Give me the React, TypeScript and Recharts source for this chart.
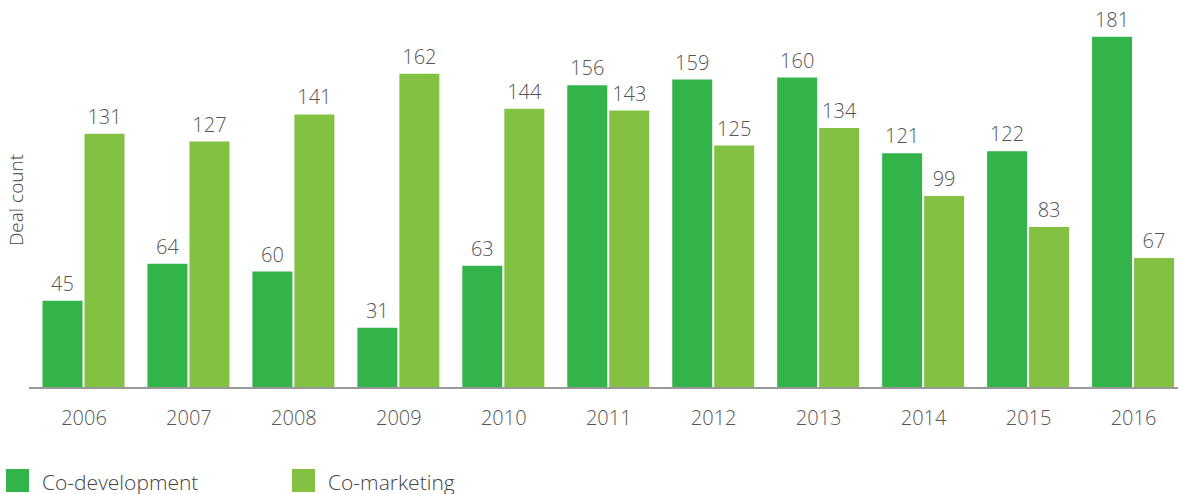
import React from 'react'
import { BarChart, Bar, XAxis, YAxis, Legend, LabelList } from 'recharts'

const years = ['2006', '2007', '2008', '2009', '2010', '2011', '2012', '2013', '2014', '2015', '2016']
const coDevelopment = [45, 64, 60, 31, 63, 156, 159, 160, 121, 122, 181]
const coMarketing = [131, 127, 141, 162, 144, 143, 125, 134, 99, 83, 67]

const DEV_COLOR = '#32B44B'
const MKT_COLOR = '#82C142'
const FONT = '"Open Sans", sans-serif'

const legendItems = [
  { color: DEV_COLOR, value: 'Co-development', x: 6 },
  { color: MKT_COLOR, value: 'Co-marketing', x: 292 },
]

const data = years.map((year, i) => ({
  year,
  dev: coDevelopment[i],
  mkt: coMarketing[i],
}))

function ChartLegend() {
  return (
    <div style={{ position: 'relative', width: 600, height: 25 }}>
      {legendItems.map((item) => (
        <div
          key={item.value}
          style={{ position: 'absolute', left: item.x, top: 0, display: 'flex', alignItems: 'center' }}
        >
          <span style={{ width: 23, height: 23, background: item.color, display: 'inline-block' }} />
          <span
            style={{
              marginLeft: 13,
              fontFamily: FONT,
              fontWeight: 300,
              fontSize: 21,
              color: '#444',
              lineHeight: '23px',
              position: 'relative',
              top: 2,
            }}
          >
            {item.value}
          </span>
        </div>
      ))}
    </div>
  )
}

const YLabel = () => (
  <text
    transform="translate(23, 200) rotate(-90)"
    textAnchor="middle"
    fontFamily={FONT}
    fontWeight={300}
    fontSize={19}
    fill="#444"
  >
    Deal count
  </text>
)

export default function App() {
  return (
    <div style={{ position: 'absolute', left: 0, top: 0, width: 1178, height: 494, overflow: 'hidden', background: '#fff' }}>
      <BarChart
        width={1190}
        height={494}
        data={data}
        margin={{ top: 0, right: 4, left: 0, bottom: 56 }}
        barGap={2}
        barSize={40}
      >
        <XAxis
          dataKey="year"
          axisLine={{ stroke: '#999', strokeWidth: 2 }}
          tickLine={false}
          tickMargin={17}
          height={50}
          padding={{ left: 2.5, right: 0 }}
          tick={{ fontFamily: FONT, fontWeight: 300, fontSize: 20, fill: '#555' }}
        />
        <YAxis
          domain={[0, 200]}
          width={29}
          tick={false}
          tickLine={false}
          axisLine={false}
          label={<YLabel />}
        />
        <Legend
          verticalAlign="middle"
          align="center"
          layout="horizontal"
          wrapperStyle={{ left: 0, top: 469, width: 600 }}
          content={<ChartLegend />}
        />
        <Bar dataKey="dev" name="Co-development" fill={DEV_COLOR} isAnimationActive={false}>
          <LabelList
            dataKey="dev"
            position="top"
            offset={10}
            style={{ fontFamily: FONT, fontWeight: 300, fontSize: 20, fill: '#555' }}
          />
        </Bar>
        <Bar dataKey="mkt" name="Co-marketing" fill={MKT_COLOR} isAnimationActive={false}>
          <LabelList
            dataKey="mkt"
            position="top"
            offset={10}
            style={{ fontFamily: FONT, fontWeight: 300, fontSize: 20, fill: '#555' }}
          />
        </Bar>
      </BarChart>
    </div>
  )
}
